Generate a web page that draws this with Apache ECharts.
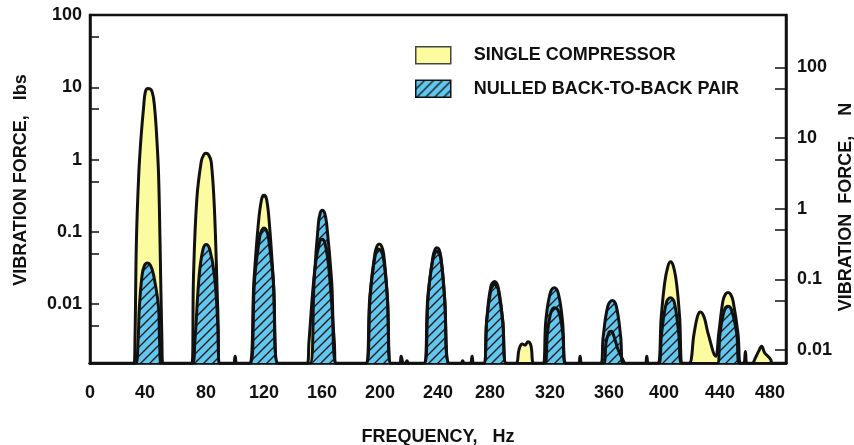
<!DOCTYPE html>
<html>
<head>
<meta charset="utf-8">
<script src="https://cdn.jsdelivr.net/npm/echarts@6/dist/echarts.min.js"></script>
<style>
html,body{margin:0;padding:0;background:#fff;}
#chart{width:854px;height:445px;}
</style>
</head>
<body>
<div id="chart"></div>
<script>
// ---- data (frequency Hz, force lbs) ----
const seriesNames = ['SINGLE COMPRESSOR', 'NULLED BACK-TO-BACK PAIR'];
const xTicks = [0, 40, 80, 120, 160, 200, 240, 280, 320, 360, 400, 440, 480];
const leftLabels = [0.01, 0.1, 1, 10, 100];
const leftTicks = [0.005, 0.01, 0.05, 0.1, 0.5, 1, 5, 10, 50, 100];
const rightLabels = [0.01, 0.1, 1, 10, 100];
const rightTicks = [0.01, 0.05, 0.1, 0.5, 1, 5, 10, 50, 100];

const singleCompressor = [
  [0,0.0015],
  [30.3,0.0015],[31,0.003],[32,0.073],[33.6,0.61],[35.1,1.9],[36.9,5.1],[38.2,8.7],[40,9.6],[42.8,8.7],[44.6,5.1],[46.2,1.77],[47.3,0.61],[48.3,0.073],[49.6,0.003],[50.3,0.0015],
  [70.3,0.0015],[71.4,0.025],[73.7,0.29],[76.7,0.93],[78.4,1.16],[80,1.22],[81.8,1.16],[83.6,0.93],[85.8,0.21],[88.1,0.0088],[89.7,0.0015],
  [98.8,0.0015],[100.1,0.0019],[101.4,0.0015],
  [109.7,0.0015],[113.1,0.0216],[116.1,0.13],[118.3,0.28],[120,0.32],[121.8,0.28],[123.7,0.13],[126.4,0.0216],[129.9,0.0015],
  [149.8,0.0015],[151,0.003],[155,0.03],[158.2,0.07],[160,0.079],[162,0.07],[164.8,0.03],[168.5,0.003],[169.5,0.0015],
  [190,0.0015],[193,0.0127],[196.5,0.05],[198,0.064],[199.5,0.068],[201,0.064],[202.5,0.05],[205.1,0.0127],[207.8,0.0015],
  [213.5,0.0015],[214.6,0.0019],[216.2,0.0015],[217.5,0.0015],[218.6,0.00165],[219.7,0.0015],
  [230,0.0015],[233,0.0127],[236.5,0.045],[238,0.057],[239.3,0.06],[240.7,0.057],[242,0.045],[244.5,0.0127],[248,0.0015],
  [255.8,0.0015],[257,0.00165],[258.2,0.0015],[262.2,0.0015],[263.5,0.0019],[264.8,0.0015],
  [271.5,0.0015],[273.6,0.006],[276.5,0.016],[277.8,0.018],[279,0.019],[280.2,0.018],[281.5,0.016],[284.6,0.006],[287.2,0.0015],
  [293.5,0.0015],[296,0.0024],[298,0.0028],[300,0.0027],[302,0.003],[304,0.0027],[306.5,0.0015],
  [313.5,0.0015],[315.5,0.004],[318,0.0078],[320.5,0.0089],[323.5,0.0076],[326,0.004],[328,0.0015],
  [336.8,0.0015],[338,0.0019],[339.2,0.0015],
  [354,0.0015],[356,0.003],[358,0.0041],[359.5,0.0042],[361.5,0.0035],[364,0.0024],[367.5,0.0017],[369.5,0.0015],
  [382.8,0.0015],[384,0.0019],[385.2,0.0015],
  [391.2,0.0015],[394,0.0068],[396.3,0.0195],[398.5,0.033],[400.4,0.0384],[402.4,0.033],[404.5,0.0195],[406.6,0.0068],[408.9,0.0015],
  [413,0.0015],[416.6,0.0039],[419,0.0068],[421,0.0078],[423.5,0.0066],[426.3,0.0039],[431.5,0.0019],
  [433.6,0.0039],[436.5,0.011],[438.2,0.0137],[440,0.0145],[441.8,0.0137],[443.5,0.011],[446.9,0.0039],[448.6,0.0015],
  [450.8,0.0015],[452,0.0022],[453.2,0.0015],
  [456.5,0.0015],[458.9,0.0018],[461,0.0022],[463.2,0.0026],[465.3,0.0021],[467.5,0.0019],[469.5,0.0017],[470.5,0.0015],
  [480,0.0015]
];

const nulledPair = [
  [0,0.0015],
  [31.3,0.0015],[33.1,0.003],[34,0.0088],[35.9,0.025],[37.5,0.034],[39.5,0.037],[41.8,0.034],[43.9,0.025],[47.3,0.0088],[48,0.003],[49.2,0.0015],
  [70.5,0.0015],[72.3,0.003],[75.3,0.025],[78,0.058],[80.1,0.067],[82.5,0.058],[85.8,0.025],[88.2,0.005],[89.2,0.0015],
  [110.5,0.0015],[113.5,0.0216],[117,0.085],[118.6,0.106],[120,0.113],[121.6,0.106],[123,0.085],[126.4,0.0216],[129.5,0.0015],
  [151.7,0.0015],[154.6,0.0216],[157.5,0.13],[158.8,0.182],[160.2,0.198],[161.8,0.182],[163.2,0.13],[166.6,0.0216],[170,0.0015],
  [190.5,0.0015],[193.2,0.0127],[196.5,0.045],[199.3,0.058],[202.2,0.045],[205,0.0127],[207.5,0.0015],
  [230.5,0.0015],[233.2,0.0127],[236.5,0.042],[239.2,0.054],[242,0.042],[244.5,0.0127],[247.7,0.0015],
  [271.3,0.0015],[273.6,0.006],[276.3,0.017],[278.9,0.0206],[281.5,0.017],[284.6,0.006],[287.3,0.0015],
  [312.1,0.0015],[314.4,0.006],[317.3,0.014],[320.2,0.0168],[323,0.014],[325.8,0.006],[328.6,0.0015],
  [352.3,0.0015],[353.9,0.0035],[357.2,0.0095],[360.2,0.0112],[363,0.0093],[366,0.0035],[367.6,0.0015],
  [392,0.0015],[394.2,0.0039],[397.5,0.0105],[400.3,0.0122],[403,0.0105],[406,0.0039],[408.2,0.0015],
  [432.5,0.0015],[434.5,0.0039],[437.5,0.0082],[440,0.0093],[442.5,0.0082],[446,0.0039],[448,0.0015],
  [480,0.0015]
];

// ---- styling ----
const FONT = '"Liberation Sans", Arial, Helvetica, sans-serif';
const YELLOW = '#fdfb9f';
const BLUE = '#62c7ef';
const INK = '#111';
// small leftward nudges of x tick labels, as hand-lettered in the original
const xLabelNudge = { 40: 6, 280: 12, 320: 8, 360: 6, 400: 12, 440: 16, 480: 32 };

function hatchCanvas() {
  const c = document.createElement('canvas');
  c.width = 9; c.height = 9;
  const g = c.getContext('2d');
  g.fillStyle = BLUE; g.fillRect(0, 0, 9, 9);
  g.strokeStyle = '#1a1a1a'; g.lineWidth = 1.4;
  g.beginPath();
  g.moveTo(-2, 11); g.lineTo(11, -2);
  g.moveTo(-2, 2); g.lineTo(2, -2);
  g.moveTo(7, 11); g.lineTo(11, 7);
  g.stroke();
  return c;
}
const hatch = { image: hatchCanvas(), repeat: 'repeat' };

const labelStyle = { fontFamily: FONT, fontWeight: 'bold', fontSize: 18, color: INK };
const xRich = {};
Object.keys(xLabelNudge).forEach(function (k) {
  xRich['n' + k] = Object.assign({}, labelStyle, { padding: [0, xLabelNudge[k], 0, 0] });
});

const chart = echarts.init(document.getElementById('chart'), null, { renderer: 'canvas' });
chart.setOption({
  animation: false,
  backgroundColor: '#fff',
  grid: { left: 90, right: 68, top: 15, bottom: 82, outerBoundsMode: 'none', containLabel: false,
          show: true, borderColor: INK, borderWidth: 2.5, backgroundColor: 'transparent' },
  legend: {
    orient: 'vertical', left: 410, top: 41, itemWidth: 35, itemHeight: 17, itemGap: 15,
    icon: 'rect', selectedMode: false,
    textStyle: Object.assign({}, labelStyle, { padding: [0, 0, 0, 18], lineHeight: 17 }),
    data: [
      { name: seriesNames[0], itemStyle: { color: YELLOW, borderColor: '#444', borderWidth: 1.5 } },
      { name: seriesNames[1], itemStyle: { color: hatch, borderColor: INK, borderWidth: 1.5 } }
    ]
  },
  xAxis: {
    type: 'value', min: 0, max: 480, interval: 40,
    name: 'FREQUENCY,   Hz', nameLocation: 'middle', nameGap: 65, nameMoveOverlap: false,
    nameTextStyle: labelStyle,
    axisLine: { show: true, lineStyle: { color: INK, width: 2.5 } },
    axisTick: { show: false },
    splitLine: { show: false },
    axisLabel: Object.assign({}, labelStyle, {
      margin: 21, customValues: xTicks, rich: xRich,
      formatter: function (v) { return xLabelNudge[v] ? '{n' + v + '|' + v + '}' : String(v); }
    })
  },
  yAxis: [
    {
      type: 'log', logBase: 10, min: 0.00153, max: 100, position: 'left',
      name: 'VIBRATION FORCE,   lbs', nameLocation: 'middle', nameRotate: 90, nameGap: 60, nameMoveOverlap: false,
      nameTextStyle: Object.assign({}, labelStyle, { padding: [0, 0, 0, 18] }),
      axisLine: { show: true, lineStyle: { color: INK, width: 2.5 } },
      axisTick: { show: true, inside: true, length: 9, lineStyle: { color: INK, width: 1.5 }, customValues: leftTicks },
      axisLabel: Object.assign({}, labelStyle, { margin: 8, customValues: leftLabels }),
      splitLine: { show: false }
    },
    {
      type: 'log', logBase: 10, min: 0.00655, max: 551, position: 'right',
      name: 'VIBRATION  FORCE,    N', nameLocation: 'middle', nameRotate: 90, nameGap: 51, nameMoveOverlap: false,
      nameTextStyle: Object.assign({}, labelStyle, { padding: [0, 36, 0, 0] }),
      axisLine: { show: true, lineStyle: { color: INK, width: 2.5 } },
      axisTick: { show: true, inside: true, length: 11, lineStyle: { color: INK, width: 1.5 }, customValues: rightTicks },
      axisLabel: Object.assign({}, labelStyle, { margin: 11, customValues: rightLabels }),
      splitLine: { show: false }
    }
  ],
  series: [
    {
      name: seriesNames[0], type: 'line', data: singleCompressor, smooth: 0.4, showSymbol: false,
      lineStyle: { width: 0 }, itemStyle: { color: YELLOW },
      areaStyle: { color: YELLOW, opacity: 1, origin: 'start' }, z: 2
    },
    {
      name: seriesNames[1], type: 'line', data: nulledPair, smooth: 0.4, showSymbol: false,
      lineStyle: { width: 0 }, itemStyle: { color: hatch },
      areaStyle: { color: hatch, opacity: 1, origin: 'start' }, z: 3
    },
    {
      name: 'outline-single', type: 'line', data: singleCompressor, smooth: 0.4, showSymbol: false,
      lineStyle: { color: INK, width: 3, join: 'round', cap: 'round' }, z: 4
    },
    {
      name: 'outline-nulled', type: 'line', data: nulledPair, smooth: 0.4, showSymbol: false,
      lineStyle: { color: INK, width: 3, join: 'round', cap: 'round' }, z: 5
    }
  ]
});
</script>
</body>
</html>
